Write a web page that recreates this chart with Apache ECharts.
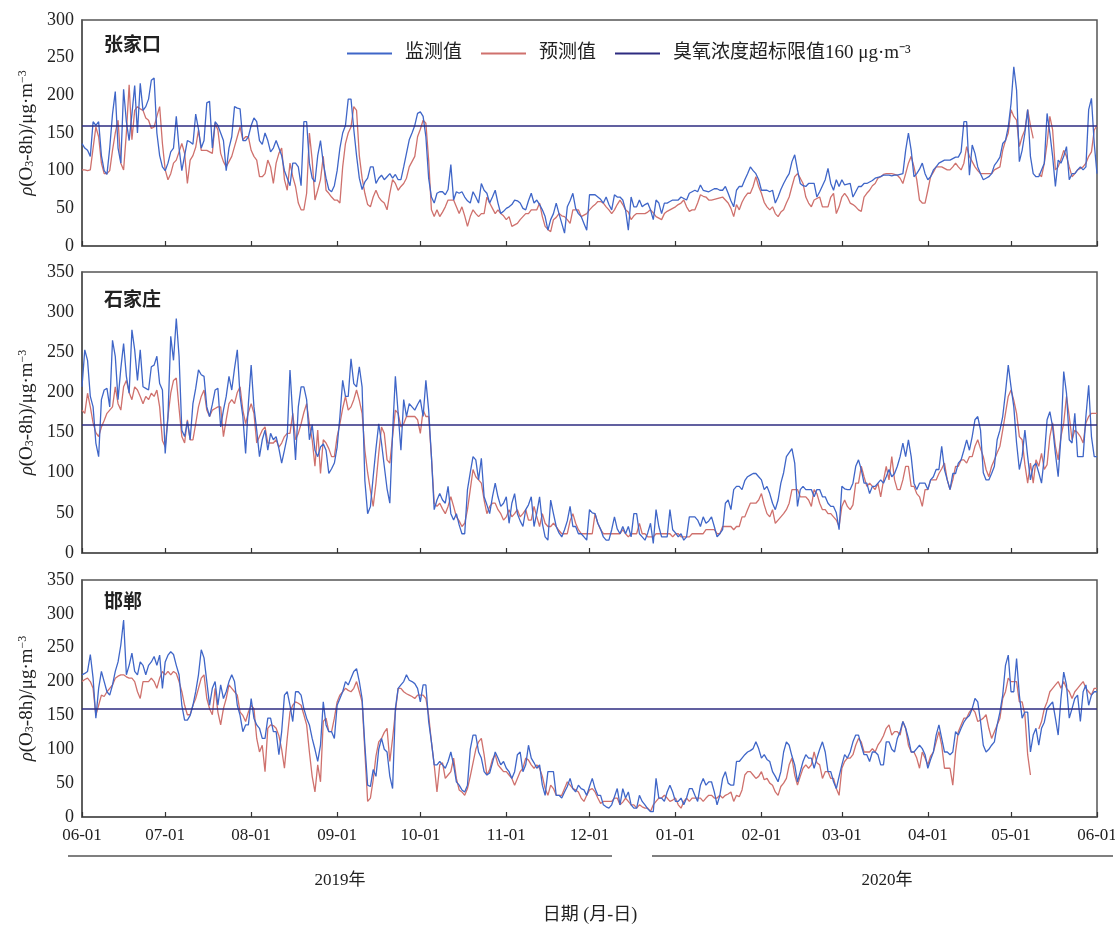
<!DOCTYPE html>
<html><head><meta charset="utf-8">
<script src="https://cdn.jsdelivr.net/npm/echarts/dist/echarts.min.js"></script>
<style>html,body{margin:0;padding:0;background:#fff}#c{width:1115px;height:927px}</style>
</head><body><div id="c"></div>
<script>
// ---------- data ----------
const CITIES = ['张家口', '石家庄', '邯郸'];
const Y_MAX = [300, 350, 350];
const LIMIT = 160;
const SERIES_NAMES = ['监测值', '预测值', '臭氧浓度超标限值160 μg·m⁻³'];
const YEAR_LABELS = ['2019年', '2020年'];
const X_TITLE = '日期 (月-日)';

// 张家口 monitored (daily, 2019-06-01 .. 2020-06-01)
const ZJK_OBS = [
136,130,127,119,165,160,165,120,100,95,
130,175,205,130,110,208,165,140,175,213,
150,216,180,185,195,220,223,150,120,105,
100,110,125,130,172,130,100,120,140,138,
135,175,155,130,140,190,192,130,165,160,
150,140,100,130,145,185,183,182,140,140,
145,160,170,165,140,135,150,140,125,130,
140,130,120,100,90,80,110,110,105,80,
165,165,110,90,85,120,140,110,90,75,
72,80,100,130,150,160,195,195,155,120,
90,75,85,90,105,105,83,90,94,88,
92,96,90,95,88,88,105,123,141,150,
160,176,178,172,145,90,65,57,70,72,
72,68,75,108,61,72,70,72,65,60,
57,72,65,57,83,74,70,57,65,74,
57,43,46,50,52,55,61,60,57,50,
48,60,70,57,61,55,48,39,21,35,
43,57,43,30,17,52,60,70,50,43,
39,30,21,68,68,68,65,62,57,65,
55,48,68,65,65,61,48,21,65,52,
52,61,52,55,57,48,35,61,57,43,
57,57,59,61,61,61,65,63,61,70,
72,74,72,81,74,73,72,74,76,76,
74,74,79,70,60,52,74,79,79,88,
96,105,100,96,88,74,74,74,72,74,
57,65,75,83,90,96,112,121,101,83,
80,79,83,83,83,65,72,80,88,103,
83,74,88,79,88,81,82,83,65,72,
79,79,83,83,85,87,90,91,92,94,
94,94,93,94,94,95,96,127,150,127,
92,96,102,110,96,88,92,101,105,110,
112,114,114,114,116,118,118,125,165,165,
94,134,123,105,96,88,90,92,96,107,
112,118,136,140,158,189,238,207,112,127,
150,181,119,96,92,92,101,110,176,150,
119,79,114,110,119,132,88,96,96,101,
105,101,105,181,196,136,96];
// 张家口 predicted
const ZJK_PRED = [
101,101,100,101,130,158,145,110,96,96,
100,127,150,167,110,101,150,214,141,180,
185,182,180,170,167,156,158,172,185,136,
101,88,96,110,114,125,136,123,83,114,
120,131,154,127,127,127,125,123,163,154,
123,112,105,112,119,132,145,158,141,145,
145,127,119,114,92,92,96,114,105,83,
110,123,130,88,74,110,92,79,57,48,
48,70,150,114,61,74,88,119,74,70,
65,61,61,57,105,136,150,158,185,180,
120,90,70,55,52,65,74,65,60,57,
48,70,88,83,74,79,83,90,105,112,
119,145,155,167,163,114,48,39,48,39,
45,52,61,61,61,52,43,52,40,26,
39,48,43,39,43,43,65,57,50,43,
48,43,40,35,39,26,28,30,35,39,
43,43,48,48,48,57,39,26,22,19,
35,38,43,40,39,35,30,48,48,48,
39,41,43,48,52,55,59,59,57,52,
48,43,48,55,61,55,48,45,35,40,
43,43,43,43,45,48,44,39,37,35,
43,46,48,50,52,55,57,61,52,46,
48,48,57,68,66,65,61,61,62,63,
64,65,61,57,50,39,55,48,58,65,
70,70,79,92,79,70,58,52,48,52,
43,39,45,48,57,65,79,92,96,90,
83,65,57,52,61,63,65,52,52,52,
65,70,43,52,65,70,65,57,55,52,
48,46,65,70,74,80,83,90,92,95,
96,96,96,95,94,90,83,96,110,119,
105,88,61,57,57,74,92,98,105,105,
105,103,101,101,105,110,105,101,110,132,
119,112,105,100,96,96,96,96,96,101,
103,105,127,140,150,181,172,167,132,145,
154,181,160,143,null,96,92,110,136,172,
154,101,105,115,127,119,105,92,96,101,
103,105,110,119,125,154,160];
// 石家庄 monitored
const SJZ_OBS = [
207,253,240,195,182,137,120,191,203,205,
182,265,245,191,230,261,220,199,278,253,
215,253,207,205,203,232,234,245,211,203,
124,170,270,240,292,245,153,145,164,141,
186,205,228,222,220,182,170,185,203,205,
157,178,195,220,203,230,253,195,170,124,
186,234,182,153,120,141,153,128,149,141,
145,130,112,128,145,228,170,116,182,207,
207,191,141,160,128,120,132,136,128,99,
105,112,132,170,215,195,195,242,211,207,
232,207,90,49,58,95,130,161,137,108,
80,62,150,220,174,128,191,170,186,182,
178,185,191,170,215,178,120,54,66,74,
66,62,83,49,41,49,35,24,24,79,
100,120,116,91,118,70,60,49,70,87,
70,58,62,70,37,62,74,49,40,33,
54,60,70,33,50,70,37,20,16,66,
49,33,25,20,29,40,58,33,33,24,
24,20,16,54,50,49,37,30,20,16,
16,29,45,30,24,33,24,33,20,49,
49,24,20,16,25,37,12,54,33,20,
20,20,54,29,25,20,24,16,20,45,
45,45,41,33,45,37,40,45,33,20,
24,29,62,66,54,79,83,83,79,90,
95,97,99,99,95,91,79,83,74,62,
54,66,87,100,120,125,130,112,58,79,
83,79,79,79,70,79,79,70,70,62,
58,58,50,29,83,80,79,79,87,108,
116,104,87,87,74,83,83,87,91,87,
95,104,95,99,108,120,137,120,141,120,
87,79,87,87,87,79,91,95,104,104,
133,104,91,79,99,99,112,116,128,141,
128,145,166,170,153,100,91,91,99,108,
141,153,170,200,234,207,182,137,104,120,
153,120,91,108,112,100,87,120,166,176,
157,124,95,145,226,199,141,137,174,120,
120,120,170,209,145,120,120];
// 石家庄 predicted
const SJZ_PRED = [
178,174,199,182,162,150,145,157,165,174,
178,182,207,186,178,207,215,200,191,207,
203,195,186,195,191,199,195,203,182,140,
132,170,199,215,218,180,145,137,166,141,
141,161,182,195,203,178,170,178,180,182,
182,145,166,186,191,186,200,207,178,161,
175,186,174,137,145,153,157,137,137,137,
141,132,137,145,149,149,174,141,149,161,
175,186,161,141,108,153,99,141,137,130,
120,120,145,161,180,195,178,182,191,203,
190,174,128,100,78,58,87,124,157,149,
116,112,145,178,174,157,161,170,170,170,
170,166,149,178,170,170,120,62,58,62,
55,49,58,70,58,45,40,33,37,54,
79,104,95,91,87,66,49,58,62,62,
54,49,41,45,54,45,49,54,45,49,
54,41,41,58,45,33,49,37,33,33,
37,33,28,24,24,24,40,49,37,29,
24,24,24,24,24,49,37,29,24,24,
24,24,24,24,24,29,24,20,24,24,
24,37,24,24,20,20,20,24,24,24,
24,24,24,20,24,24,20,20,20,20,
24,24,24,24,24,29,29,29,29,24,
24,33,33,33,33,29,33,33,45,45,
54,62,62,62,66,74,60,49,45,54,
37,41,45,49,54,62,79,79,79,70,
70,70,66,58,79,74,62,54,54,49,
49,45,41,33,58,66,58,54,60,87,
87,108,95,83,87,83,79,87,70,90,
108,91,120,91,79,79,91,108,108,83,
83,74,70,58,79,79,91,91,91,99,
105,112,91,79,91,108,108,116,116,112,
120,120,133,141,130,120,104,95,108,116,
125,133,153,174,195,203,190,174,145,141,
110,87,112,87,116,108,124,104,110,145,
162,133,116,145,162,195,170,141,153,150,
145,137,162,170,174,174,174];
// 邯郸 monitored
const HD_OBS = [
210,212,215,240,205,146,190,215,200,185,
180,195,215,229,254,291,210,224,242,215,
210,229,224,210,224,229,237,224,239,190,
229,239,244,240,224,210,165,143,143,150,
165,185,210,247,235,200,165,190,200,165,
195,175,185,200,210,200,165,150,126,136,
136,175,146,136,131,116,116,146,146,126,
126,92,126,180,185,165,141,185,185,180,
160,146,136,116,100,82,106,170,136,126,
126,116,165,175,185,200,195,205,215,219,
200,175,106,47,45,70,60,100,116,100,
96,60,42,160,190,195,200,210,202,200,
197,190,170,195,195,141,111,77,77,82,
77,72,82,96,77,52,47,40,37,47,
100,121,121,96,87,67,62,65,80,96,
87,77,82,72,67,57,67,92,96,67,
77,106,87,80,72,77,47,32,67,67,
67,32,32,28,37,45,57,42,37,47,
42,40,32,45,57,42,32,32,18,15,
13,18,30,42,18,42,28,37,18,13,
13,32,23,18,12,8,8,57,28,28,
23,37,47,37,23,23,28,18,28,42,
42,32,23,47,57,47,52,52,37,18,
32,57,67,50,47,47,82,82,87,92,
96,98,101,111,101,87,92,85,82,67,
60,52,67,96,111,106,90,77,52,67,
82,92,87,87,72,87,100,111,96,67,
67,52,42,60,77,92,87,96,111,121,
121,106,92,92,82,96,96,92,77,77,
111,111,100,96,116,126,141,131,116,96,
96,101,106,101,92,72,85,96,121,136,
116,96,96,92,96,126,121,131,140,146,
150,160,175,170,141,106,96,100,106,111,
136,155,180,224,239,185,185,234,180,146,
155,155,96,121,131,106,131,140,160,165,
170,146,121,175,214,195,146,160,175,180,
141,185,195,165,180,185,185];
// 邯郸 predicted
const HD_PRED = [
200,203,205,200,190,150,165,180,178,185,
190,195,205,208,210,210,207,205,205,200,
185,175,200,200,200,205,200,190,205,215,
210,215,210,215,212,200,185,165,151,151,
165,175,190,205,210,175,160,151,190,155,
136,160,175,195,190,185,180,155,150,141,
155,165,160,116,96,106,67,131,136,135,
131,120,100,72,116,155,165,170,168,165,
151,136,96,60,37,77,52,141,146,126,
126,146,170,180,185,190,187,185,190,200,
185,170,96,23,28,55,90,111,116,125,
131,82,116,155,190,190,185,182,180,178,
175,180,180,180,175,150,111,77,37,77,
80,57,62,67,87,57,40,37,32,42,
60,80,100,111,116,92,62,70,85,92,
77,72,67,67,62,57,47,57,67,72,
87,84,77,72,77,72,60,42,32,47,
42,32,32,32,42,52,47,42,40,37,
28,23,32,40,42,37,28,20,23,23,
23,23,28,28,18,22,28,23,18,18,
13,18,15,13,13,8,18,23,28,28,
32,28,23,25,28,18,13,23,28,23,
28,28,28,28,23,28,32,32,28,28,
32,28,32,34,37,23,32,30,40,62,
67,67,62,57,60,67,55,57,50,47,
37,32,45,50,57,77,87,62,47,60,
72,77,72,77,96,80,77,57,67,67,
57,57,42,32,72,82,87,87,92,106,
116,111,96,96,96,101,96,106,112,120,
131,136,121,126,126,121,141,131,106,96,
96,87,72,96,87,77,90,96,111,126,
106,72,72,72,47,96,126,136,146,146,
155,160,155,141,143,146,151,131,116,126,
136,146,175,185,205,200,200,200,170,170,
151,92,62,null,null,130,141,160,170,185,
190,195,200,190,200,190,185,175,185,190,
195,200,190,185,180,190,190];

const OBS = [ZJK_OBS, SJZ_OBS, HD_OBS];
const PRED = [ZJK_PRED, SJZ_PRED, HD_PRED];

// ---------- build ----------
const N_DAYS = 367;
const DATES = [];
for (let i = 0; i < N_DAYS; i++) {
  const d = new Date(Date.UTC(2019, 5, 1 + i));
  DATES.push(String(d.getUTCMonth() + 1).padStart(2, '0') + '-' + String(d.getUTCDate()).padStart(2, '0'));
}
const SERIF = '"Liberation Serif","Times New Roman","Noto Sans CJK SC",serif';
const CJK = '"Liberation Serif","Noto Sans CJK SC",serif';
const BLUE = '#3f66c8', RED = '#cf716d', NAVY = '#2d2b80', FRAME = '#555';
const GRIDS = [{top: 20, height: 226}, {top: 272, height: 281}, {top: 580, height: 237}];
const isMonthStart = (idx, val) => String(val).endsWith('-01');

const option = {
  animation: false,
  backgroundColor: '#fff',
  title: CITIES.map((c, i) => ({
    text: c, left: 99, top: [32, 287, 589][i],
    textStyle: {fontSize: 19, fontWeight: 'bold', fontFamily: CJK, color: '#222'}
  })),
  legend: {
    left: 347, top: 44, padding: 0, itemWidth: 45, itemHeight: 2, itemGap: 19, icon: 'rect',
    textStyle: {fontSize: 19, fontFamily: CJK, color: '#222', padding: [0, 0, 0, 8]},
    data: SERIES_NAMES
  },
  grid: GRIDS.map(g => ({left: 82, right: 18, top: g.top, height: g.height, show: true,
    borderColor: FRAME, borderWidth: 1.5, backgroundColor: 'transparent', outerBoundsMode: 'none'})),
  xAxis: GRIDS.map((g, i) => ({
    type: 'category', gridIndex: i, data: DATES, boundaryGap: false,
    axisLine: {show: true, lineStyle: {color: FRAME, width: 1.5}},
    axisTick: {show: true, inside: true, length: 5, interval: isMonthStart, lineStyle: {color: '#333', width: 1.2}},
    axisLabel: {show: i === 2, interval: isMonthStart, color: '#222', fontFamily: SERIF, fontSize: 17, margin: 10},
    splitLine: {show: false}
  })),
  yAxis: GRIDS.map((g, i) => ({
    type: 'value', gridIndex: i, min: 0, max: Y_MAX[i], interval: 50,
    axisLine: {show: true, lineStyle: {color: FRAME, width: 1.5}},
    axisTick: {show: false},
    axisLabel: {color: '#222', fontFamily: SERIF, fontSize: 18, margin: 8},
    splitLine: {show: false},
    name: '{i|ρ}(O{s|3}-8h)/μg·m{p|−3}',
    nameLocation: 'middle', nameGap: 44, nameRotate: 90,
    nameTextStyle: {
      fontFamily: SERIF, fontSize: 19, color: '#222',
      rich: {
        i: {fontFamily: SERIF, fontSize: 19, fontStyle: 'italic', color: '#222'},
        s: {fontFamily: SERIF, fontSize: 12, verticalAlign: 'bottom', color: '#222', padding: [6, 0, 0, 0]},
        p: {fontFamily: SERIF, fontSize: 12, verticalAlign: 'top', color: '#222', padding: [0, 0, 7, 0]}
      }
    }
  })),
  series: []
};

for (let i = 0; i < 3; i++) {
  option.series.push({
    name: SERIES_NAMES[0], type: 'line', xAxisIndex: i, yAxisIndex: i, data: OBS[i],
    symbol: 'none', color: BLUE, lineStyle: {color: BLUE, width: 1.3}, z: 3
  });
  option.series.push({
    name: SERIES_NAMES[1], type: 'line', xAxisIndex: i, yAxisIndex: i, data: PRED[i],
    symbol: 'none', color: RED, lineStyle: {color: RED, width: 1.3}, z: 2, connectNulls: false
  });
  option.series.push({
    name: SERIES_NAMES[2], type: 'line', xAxisIndex: i, yAxisIndex: i, data: [],
    symbol: 'none', color: NAVY, lineStyle: {color: NAVY, width: 1.5}, z: 4,
    markLine: {silent: true, symbol: 'none', label: {show: false},
      lineStyle: {color: NAVY, width: 1.5, type: 'solid'}, data: [{yAxis: LIMIT}]}
  });
}

const G_TEXT = {fill: '#222', fontFamily: CJK};
option.graphic = [
  {type: 'line', shape: {x1: 68, y1: 856, x2: 612, y2: 856}, style: {stroke: FRAME, lineWidth: 1.5}},
  {type: 'line', shape: {x1: 652, y1: 856, x2: 1113, y2: 856}, style: {stroke: FRAME, lineWidth: 1.5}},
  {type: 'text', x: 340, y: 881, style: Object.assign({text: YEAR_LABELS[0], fontSize: 17, textAlign: 'center', textVerticalAlign: 'middle'}, G_TEXT)},
  {type: 'text', x: 887, y: 881, style: Object.assign({text: YEAR_LABELS[1], fontSize: 17, textAlign: 'center', textVerticalAlign: 'middle'}, G_TEXT)},
  {type: 'text', x: 590, y: 915, style: Object.assign({text: X_TITLE, fontSize: 18, textAlign: 'center', textVerticalAlign: 'middle'}, G_TEXT)}
];
const bad = [...OBS, ...PRED].map(a => a.length).filter(n => n !== N_DAYS);
if (bad.length) option.graphic.push({type: 'text', x: 400, y: 400, style: {text: 'LEN ' + [...OBS, ...PRED].map(a => a.length).join(','), fontSize: 30, fill: 'red'}});

const chart = echarts.init(document.getElementById('c'), null, {renderer: 'canvas'});
chart.setOption(option);
</script></body></html>
